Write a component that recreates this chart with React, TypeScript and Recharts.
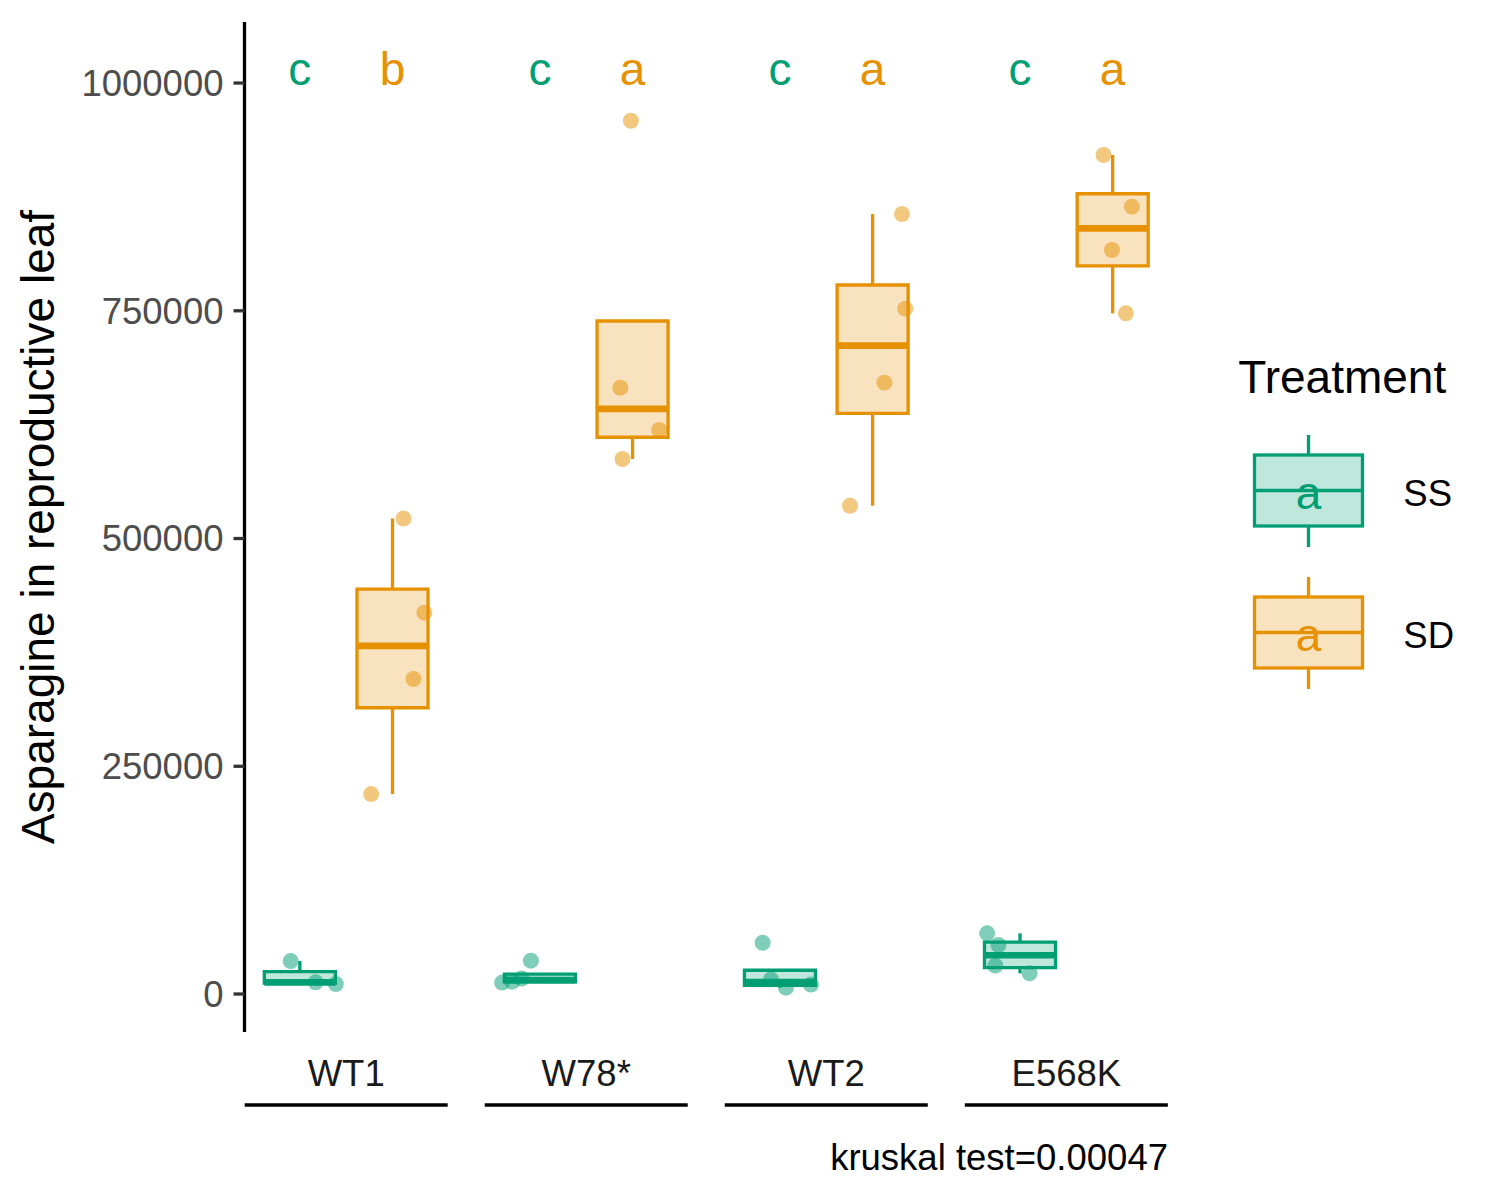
import React from 'react';
import {
  ComposedChart,
  XAxis,
  YAxis,
  Scatter,
  ReferenceArea,
  ReferenceLine,
  Legend,
  Label,
} from 'recharts';

const FONT = "'Liberation Sans', Arial, Helvetica, sans-serif";

// ---------- data ----------
const groups = ['WT1', 'W78*', 'WT2', 'E568K'];
const treatments = ['SS', 'SD'];
const treatmentColors = ['#009E73', '#E69100'];
const treatmentFills = ['#BFE7DC', '#F9E3BF'];

// Asparagine values per group (SS = treatment 0)
const ssValues = [
  [36200, 12800, 11000],
  [12600, 13500, 16900, 36600],
  [56300, 16000, 7000, 10400],
  [66600, 53800, 31200, 22700],
];
// horizontal jitter of each SS point (in group units)
const ssJitter = [
  [-0.038, 0.066, 0.15],
  [-0.157, -0.115, -0.076, -0.0375],
  [-0.072, -0.0375, 0.025, 0.129],
  [-0.137, -0.09, -0.103, 0.04],
];

// Asparagine values per group (SD = treatment 1)
const sdValues = [
  [522000, 418600, 345800, 219500],
  [958600, 665500, 619100, 587300],
  [856200, 752300, 671100, 536000],
  [921000, 864300, 816700, 747200],
];
const sdJitter = [
  [0.046, 0.133, 0.0875, -0.089],
  [-0.007, -0.051, 0.111, -0.042],
  [0.1225, 0.136, 0.049, -0.094],
  [-0.038, 0.08, -0.003, 0.055],
];

const ssLetters = ['c', 'c', 'c', 'c'];
const sdLetters = ['b', 'a', 'a', 'a'];
const letterY = 1011000;

const yTicks = [0, 250000, 500000, 750000, 1000000];
const yDomain = [-41700, 1067000];
const xTicks = [0, 1, 2, 3];
const xDomain = [-0.4235, 3.4235];

const dodge = [-0.193, 0.193];
const boxHalf = 0.148;

// ---------- helpers ----------
function q7(s: number[], p: number) {
  const h = (s.length - 1) * p;
  const lo = Math.floor(h);
  const hi = Math.ceil(h);
  return s[lo] + (h - lo) * (s[hi] - s[lo]);
}
function boxStats(values: number[]) {
  const s = [...values].sort((a, b) => a - b);
  const q1 = q7(s, 0.25);
  const med = q7(s, 0.5);
  const q3 = q7(s, 0.75);
  const iqr = q3 - q1;
  const inside = s.filter((v) => v >= q1 - 1.5 * iqr && v <= q3 + 1.5 * iqr);
  return { q1, med, q3, lo: Math.min(q1, ...inside), hi: Math.max(q3, ...inside) };
}

const seriesValues = [ssValues, sdValues];
const seriesJitter = [ssJitter, sdJitter];
const seriesLetters = [ssLetters, sdLetters];

const pointData = seriesValues.map((vals, t) =>
  vals.flatMap((arr, g) =>
    arr.map((v, i) => ({ x: g + dodge[t] + seriesJitter[t][g][i], y: v }))
  )
);
const letterData = seriesLetters.map((letters, t) =>
  letters.map((l, g) => ({ x: g + dodge[t], y: letterY, letter: l }))
);
const boxes = seriesValues.flatMap((vals, t) =>
  vals.map((arr, g) => ({ t, g, c: g + dodge[t], ...boxStats(arr) }))
);

// ---------- components ----------
const StripTick = (props: any) => {
  const { x, y, payload } = props;
  return (
    <g>
      <text
        x={x}
        y={y + 54}
        textAnchor="middle"
        fontSize={36.5}
        fill="#1A1A1A"
        fontFamily={FONT}
      >
        {groups[payload.value]}
      </text>
      <line x1={x - 101.5} x2={x + 101.5} y1={y + 73} y2={y + 73} stroke="#000" strokeWidth={3.3} />
    </g>
  );
};

const YTitle = (props: any) => {
  const vb = props.viewBox || { x: 0, y: 14, width: 236.5, height: 1010 };
  const x = vb.x + 45.5;
  const y = vb.y + vb.height / 2;
  return (
    <text
      x={x}
      y={y}
      transform={`rotate(-90 ${x} ${y})`}
      textAnchor="middle"
      fontSize={46}
      fill="#000"
      fontFamily={FONT}
    >
      Asparagine in reproductive leaf
    </text>
  );
};

const Caption = (props: any) => {
  const vb = props.viewBox || { x: 236.5, y: 1024, width: 923.5, height: 90 };
  return (
    <text
      x={vb.x + vb.width}
      y={vb.y + 138}
      textAnchor="end"
      fontSize={36.5}
      fill="#000"
      fontFamily={FONT}
    >
      kruskal test=0.00047
    </text>
  );
};

const TreatmentLegend = () => (
  <svg width={300} height={360} style={{ display: 'block', overflow: 'visible' }}>
    <text x={23.3} y={52.7} fontSize={46} fill="#000" fontFamily={FONT}>
      Treatment
    </text>
    {treatments.map((t, i) => {
      const top = 115 + i * 142;
      const cx = 93.5;
      return (
        <g key={t}>
          <line x1={cx} x2={cx} y1={top - 20} y2={top} stroke={treatmentColors[i]} strokeWidth={3.3} />
          <line x1={cx} x2={cx} y1={top + 71} y2={top + 92} stroke={treatmentColors[i]} strokeWidth={3.3} />
          <rect
            x={39.5}
            y={top}
            width={108}
            height={71}
            fill={treatmentFills[i]}
            stroke={treatmentColors[i]}
            strokeWidth={3.3}
          />
          <line x1={39.5} x2={147.5} y1={top + 35.5} y2={top + 35.5} stroke={treatmentColors[i]} strokeWidth={3.3} />
          <text
            x={cx}
            y={top + 53.5}
            textAnchor="middle"
            fontSize={46}
            fill={treatmentColors[i]}
            fontFamily={FONT}
          >
            a
          </text>
          <text x={188.3} y={top + 51} fontSize={36.5} fill="#000" fontFamily={FONT}>
            {t}
          </text>
        </g>
      );
    })}
  </svg>
);

export default function App() {
  const whiskers = boxes.flatMap((b) => [
    <ReferenceLine
      key={`wu-${b.t}-${b.g}`}
      segment={[{ x: b.c, y: b.q3 }, { x: b.c, y: b.hi }]}
      stroke={treatmentColors[b.t]}
      strokeWidth={3.3}
      ifOverflow="visible"
    />,
    <ReferenceLine
      key={`wl-${b.t}-${b.g}`}
      segment={[{ x: b.c, y: b.q1 }, { x: b.c, y: b.lo }]}
      stroke={treatmentColors[b.t]}
      strokeWidth={3.3}
      ifOverflow="visible"
    />,
  ]);
  const rects = boxes.map((b) => (
    <ReferenceArea
      key={`box-${b.t}-${b.g}`}
      x1={b.c - boxHalf}
      x2={b.c + boxHalf}
      y1={b.q1}
      y2={b.q3}
      fill={treatmentFills[b.t]}
      fillOpacity={1}
      stroke={treatmentColors[b.t]}
      strokeWidth={3.3}
      ifOverflow="visible"
    />
  ));
  const medians = boxes.map((b) => (
    <ReferenceLine
      key={`med-${b.t}-${b.g}`}
      segment={[{ x: b.c - boxHalf, y: b.med }, { x: b.c + boxHalf, y: b.med }]}
      stroke={treatmentColors[b.t]}
      strokeWidth={6.6}
      ifOverflow="visible"
    />
  ));

  return (
    <div style={{ width: 1484, height: 1184 }}>
      <ComposedChart
        width={1484}
        height={1184}
        margin={{ top: 14, right: 24, bottom: 70, left: 0 }}
      >
        <XAxis
          type="number"
          dataKey="x"
          domain={xDomain}
          ticks={xTicks}
          allowDataOverflow
          axisLine={false}
          tickLine={false}
          tickSize={0}
          tickMargin={0}
          height={90}
          tick={<StripTick />}
          interval={0}
        >
          <Label content={<Caption />} />
        </XAxis>
        <YAxis
          type="number"
          dataKey="y"
          domain={yDomain}
          ticks={yTicks}
          allowDataOverflow
          width={236.5}
          tickSize={11}
          tickMargin={10}
          interval={0}
          tickFormatter={(v: number) => String(v)}
          axisLine={{ stroke: '#000', strokeWidth: 3.3 }}
          tickLine={{ stroke: '#333333', strokeWidth: 3.3 }}
          tick={{ fontSize: 36.5, fill: '#4D4D4D', fontFamily: FONT }}
        >
          <Label content={<YTitle />} />
        </YAxis>
        <Legend
          layout="vertical"
          align="right"
          verticalAlign="middle"
          wrapperStyle={{ left: 1207, top: 332, width: 300, height: 360 }}
          content={() => <TreatmentLegend />}
        />
        {whiskers}
        {rects}
        {medians}
        {treatments.map((t, i) => (
          <Scatter
            key={`pts-${t}`}
            name={t}
            data={pointData[i]}
            isAnimationActive={false}
            shape={(p: any) => (
              <circle cx={p.cx} cy={p.cy} r={8} fill={treatmentColors[i]} fillOpacity={0.5} />
            )}
          />
        ))}
        {treatments.map((t, i) => (
          <Scatter
            key={`let-${t}`}
            name={`${t}-letters`}
            data={letterData[i]}
            isAnimationActive={false}
            shape={(p: any) => (
              <text
                x={p.cx}
                y={p.cy}
                dy="0.26em"
                textAnchor="middle"
                fontSize={46}
                fill={treatmentColors[i]}
                fontFamily={FONT}
              >
                {p.payload.letter}
              </text>
            )}
          />
        ))}
      </ComposedChart>
    </div>
  );
}
